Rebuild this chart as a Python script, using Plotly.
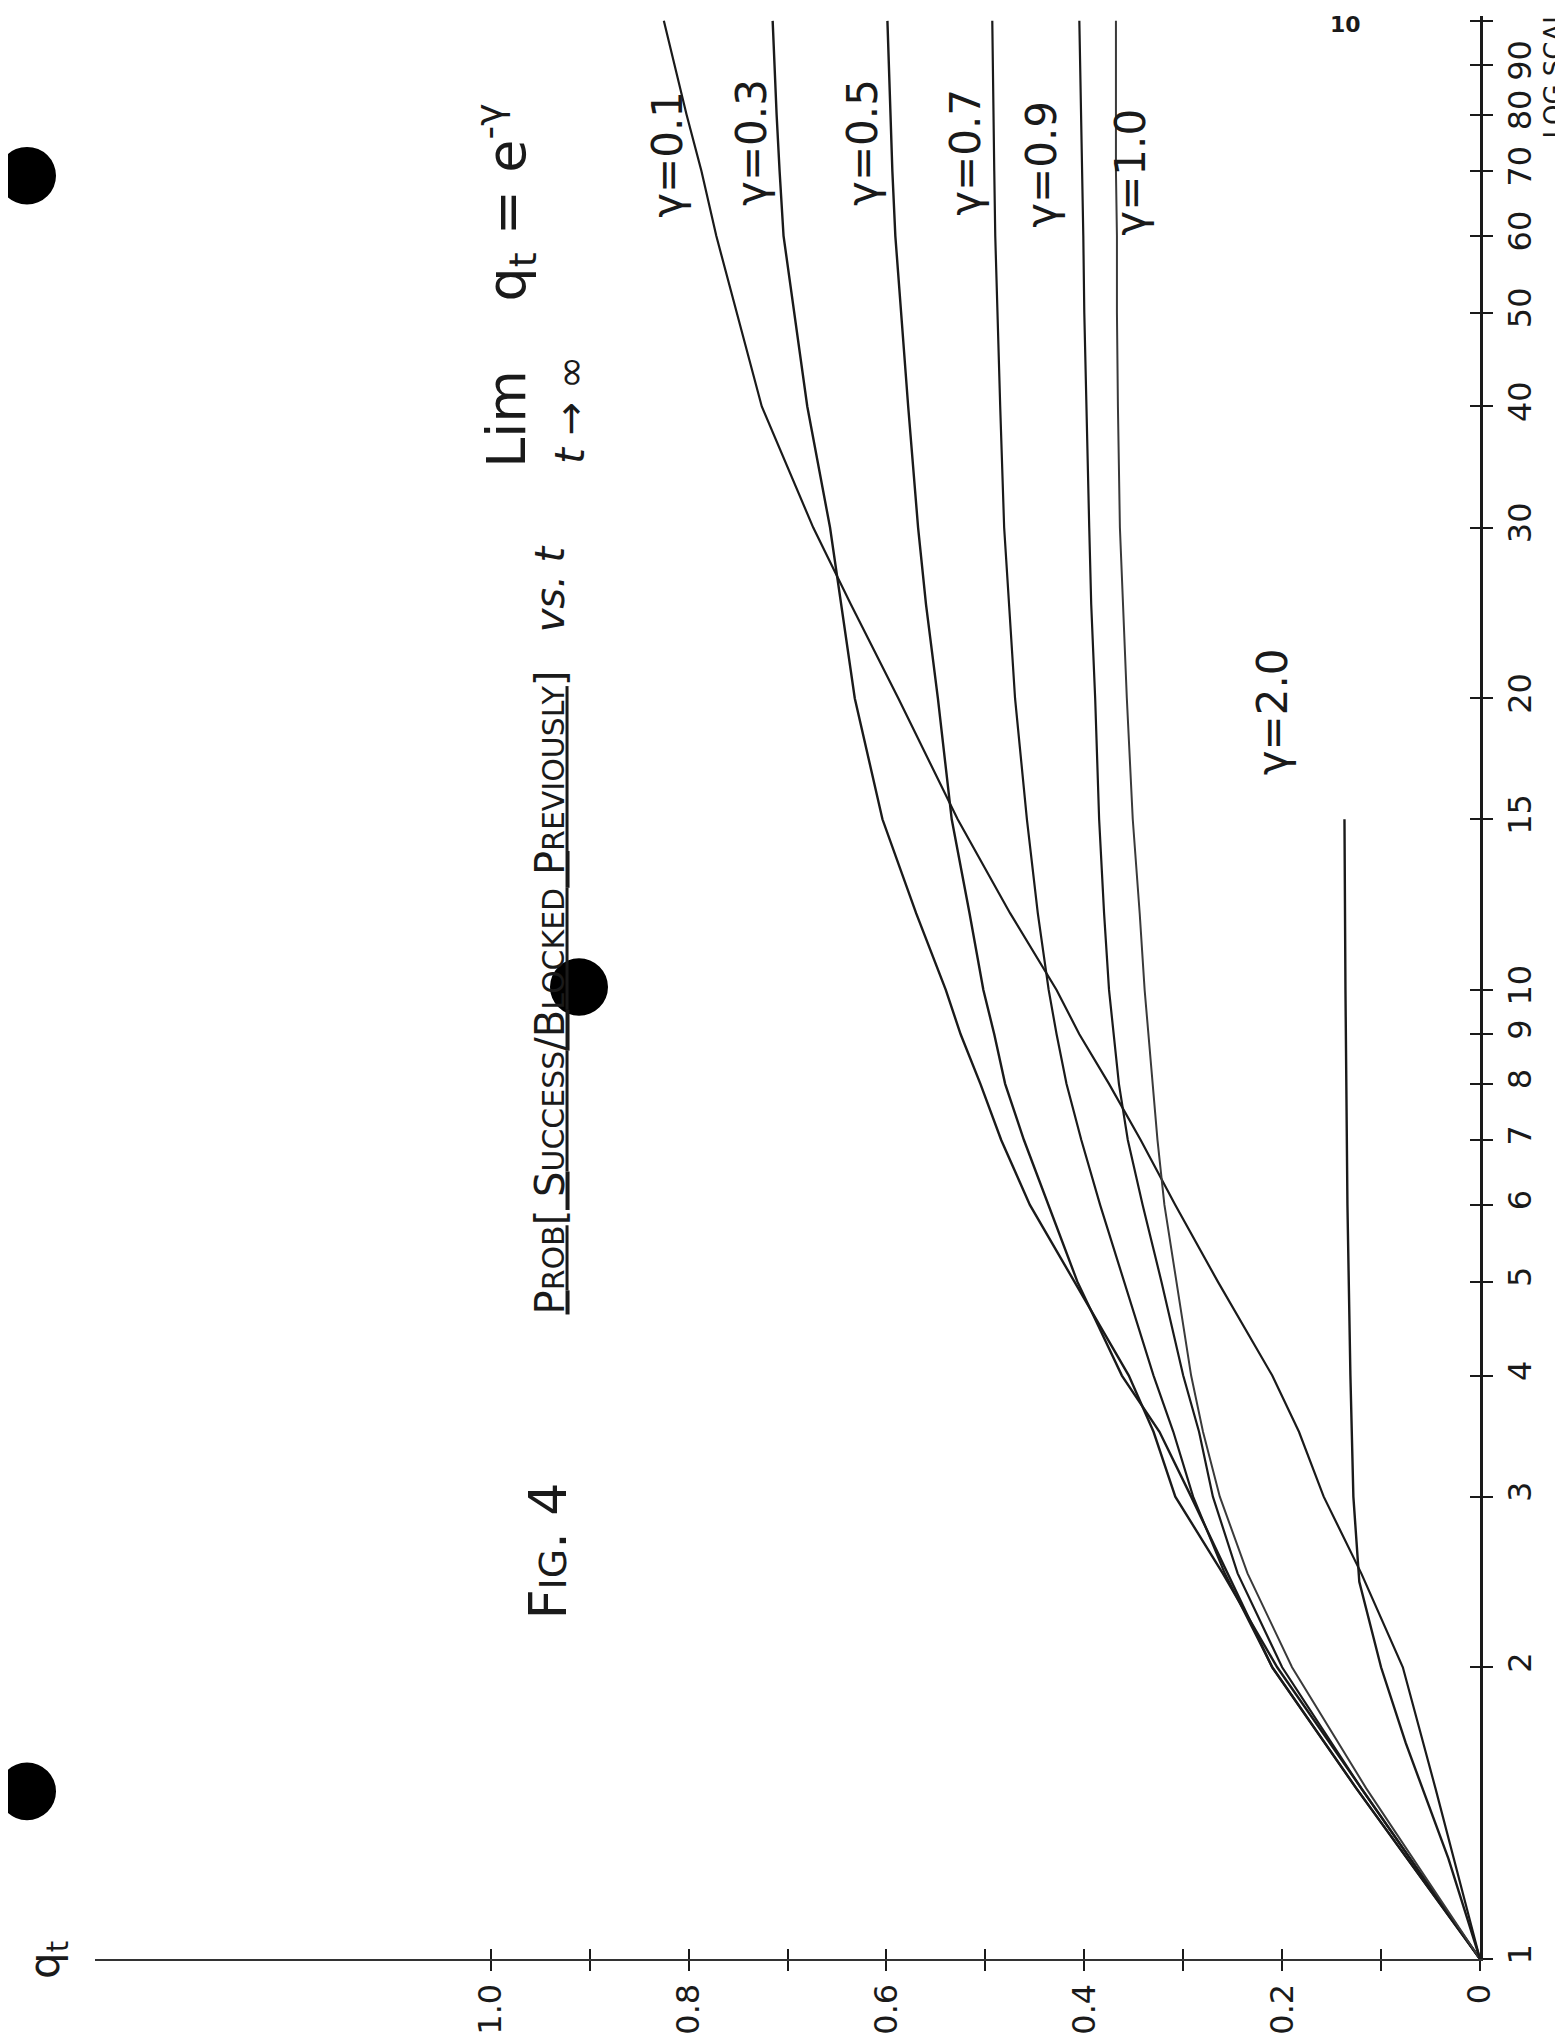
import plotly.graph_objects as go

# ---------------- data ----------------
T = [1, 1.5, 2, 2.5, 3, 3.5, 4, 5, 6, 7, 8, 9, 10, 12, 15, 20, 25, 30, 40, 50, 60, 70, 80, 100]

q_g01 = [0, 0.045, 0.078, 0.12, 0.158, 0.183, 0.21, 0.265, 0.308, 0.343, 0.375, 0.405, 0.428,
         0.475, 0.528, 0.588, 0.636, 0.674, 0.726, 0.751, 0.772, 0.787, 0.802, 0.825]
q_g03 = [0, 0.12, 0.205, 0.26, 0.308, 0.33, 0.355, 0.41, 0.455, 0.484, 0.505, 0.525, 0.54,
         0.57, 0.604, 0.632, 0.646, 0.657, 0.68, 0.693, 0.704, 0.708, 0.711, 0.715]
q_g05 = [0, 0.125, 0.21, 0.255, 0.292, 0.324, 0.362, 0.407, 0.436, 0.461, 0.48, 0.491, 0.502,
         0.516, 0.534, 0.548, 0.56, 0.568, 0.578, 0.585, 0.591, 0.594, 0.596, 0.599]
q_g07 = [0, 0.125, 0.21, 0.258, 0.29, 0.31, 0.33, 0.36, 0.384, 0.403, 0.418, 0.428, 0.436,
         0.447, 0.458, 0.47, 0.476, 0.481, 0.485, 0.488, 0.49, 0.491, 0.492, 0.493]
q_g09 = [0, 0.12, 0.2, 0.245, 0.27, 0.284, 0.3, 0.322, 0.341, 0.356, 0.365, 0.37, 0.375,
         0.38, 0.385, 0.389, 0.393, 0.395, 0.398, 0.4, 0.401, 0.402, 0.403, 0.405]
q_g10 = [0, 0.115, 0.19, 0.235, 0.263, 0.28, 0.292, 0.307, 0.319, 0.326, 0.331, 0.335, 0.339,
         0.344, 0.351, 0.357, 0.361, 0.364, 0.366, 0.367, 0.367, 0.368, 0.368, 0.368]

T_g20 = [1, 1.27, 1.67, 2, 2.45, 3, 4, 6, 10, 15]
q_g20 = [0, 0.032, 0.075, 0.10, 0.122, 0.128, 0.131, 0.134, 0.136, 0.137]

gamma_names = ["γ=0.1", "γ=0.3", "γ=0.5", "γ=0.7", "γ=0.9", "γ=1.0", "γ=2.0"]

x_tick_vals = [0, 0.1, 0.2, 0.3, 0.4, 0.5, 0.6, 0.7, 0.8, 0.9, 1.0]
x_tick_text = ["0", "", "0.2", "", "0.4", "", "0.6", "", "0.8", "", "1.0"]
y_tick_vals = [1, 2, 3, 4, 5, 6, 7, 8, 9, 10, 15, 20, 30, 40, 50, 60, 70, 80, 90, 100]
y_tick_text = [str(v) for v in y_tick_vals]

# ---------------- page geometry ----------------
W, H = 1563, 2035
PL, PR, PT, PB = 87, 1472, 8, 1967
X_RANGE = [1.40, 0.0]
Y_RANGE = [0.0, 2.005]


def px(X):
    return (X - PL) / (PR - PL)


def py(Y):
    return (PB - Y) / (PB - PT)


FONT = "DejaVu Sans"
INK = "#1a1a1a"

fig = go.Figure()

series = [
    (T, q_g01, gamma_names[0], INK, 2.2),
    (T, q_g03, gamma_names[1], INK, 2.4),
    (T, q_g05, gamma_names[2], INK, 2.4),
    (T, q_g07, gamma_names[3], INK, 2.2),
    (T, q_g09, gamma_names[4], INK, 2.2),
    (T, q_g10, gamma_names[5], "#3a3a3a", 2.0),
    (T_g20, q_g20, gamma_names[6], INK, 2.4),
]
for tt, qq, name, col, w in series:
    fig.add_trace(go.Scatter(x=qq, y=tt, mode="lines", name=name,
                             line=dict(color=col, width=w), showlegend=False,
                             hoverinfo="skip"))

# empty trace for the overlay axes (second side of the tick marks)
fig.add_trace(go.Scatter(x=[], y=[], xaxis="x2", yaxis="y2", showlegend=False))

annotations = []


def add_text(X, Y, text, size, angle=-90, color=INK, **kw):
    annotations.append(dict(x=px(X), y=py(Y), xref="paper", yref="paper", text=text,
                            showarrow=False, textangle=angle,
                            font=dict(family=FONT, size=size, color=color),
                            xanchor="center", yanchor="middle", **kw))


# curve labels
add_text(660, 148, gamma_names[0], 42)
add_text(744, 136, gamma_names[1], 42)
add_text(855, 136, gamma_names[2], 42)
add_text(958, 146, gamma_names[3], 42)
add_text(1034, 158, gamma_names[4], 42)
add_text(1123, 166, gamma_names[5], 42)
add_text(1264, 710, gamma_names[6], 42)

# title, figure number, formula
small = "<span style='font-size:30px'>"
title = ("<u>P" + small + "ROB</span>[ S" + small + "UCCESS</span>/B" + small +
         "LOCKED</span> P" + small + "REVIOUSLY</span>]</u>   <i>vs.</i> <i>t</i>")
add_text(542, 930, title, 40)
add_text(540, 1556, "F" + "<span style='font-size:38px'>IG</span>. 4", 52)
add_text(498, 280, "Lim    q<sub>t</sub> = e<sup>-γ</sup>", 54)
add_text(562, 405, "<i>t</i> → ∞", 40)

# axis annotations
add_text(40, 1968, "q<sub>t</sub>", 42)
add_text(1546, 58, "LOG SCALE", 26)
add_text(1337, 17, "<b>10</b>", 22, angle=0)

shapes = []
for (cx, cy) in [(19, 169), (19, 1798), (571, 987)]:
    r = 29
    shapes.append(dict(type="circle", xref="paper", yref="paper",
                       x0=px(cx - r), x1=px(cx + r), y0=py(cy + r), y1=py(cy - r),
                       fillcolor="black", line=dict(color="black", width=0)))

fig.update_layout(
    width=W, height=H,
    margin=dict(l=PL, r=W - PR, t=PT, b=H - PB, pad=0),
    paper_bgcolor="white", plot_bgcolor="white",
    showlegend=False,
    annotations=annotations,
    shapes=shapes,
    xaxis=dict(range=X_RANGE, tickvals=x_tick_vals, ticktext=x_tick_text,
               tickangle=-90, ticks="outside", ticklen=10, tickwidth=2, tickcolor=INK,
               showline=True, linecolor="#333333", linewidth=2,
               showgrid=False, zeroline=False,
               tickfont=dict(family=FONT, size=32, color=INK)),
    yaxis=dict(type="log", range=Y_RANGE, side="right", tickvals=y_tick_vals,
               ticktext=y_tick_text, tickangle=-90, ticks="outside", ticklen=10,
               tickwidth=2, tickcolor=INK, showline=True, linecolor=INK, linewidth=2.5,
               showgrid=False, zeroline=False,
               tickfont=dict(family=FONT, size=32, color=INK)),
    xaxis2=dict(overlaying="x", anchor="y2", side="bottom", range=X_RANGE,
                tickvals=x_tick_vals[1:], ticks="inside", ticklen=10, tickwidth=2,
                tickcolor=INK, showticklabels=False, showline=False, showgrid=False,
                zeroline=False),
    yaxis2=dict(overlaying="y", anchor="x2", side="right", type="log", range=Y_RANGE,
                tickvals=y_tick_vals[1:], ticks="inside", ticklen=10, tickwidth=2,
                tickcolor=INK, showticklabels=False, showline=False, showgrid=False,
                zeroline=False),
)

fig.write_html("out.html")
